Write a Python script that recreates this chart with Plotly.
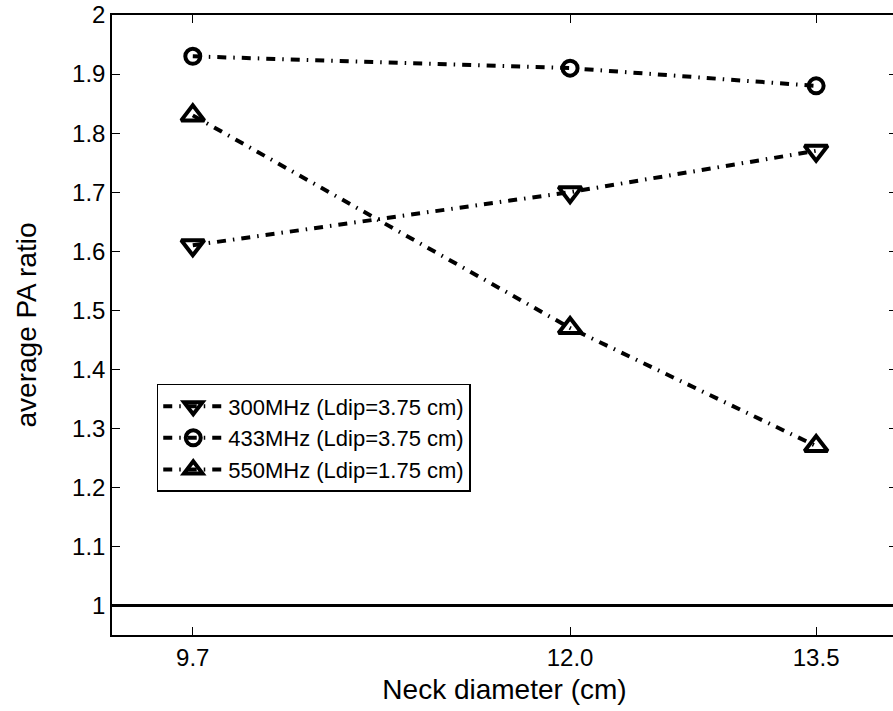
import plotly.graph_objects as go

# ---- data ----
neck_diameter = [9.7, 12.0, 13.5]
x_tick_labels = ["9.7", "12.0", "13.5"]
pa_300 = [1.61, 1.70, 1.77]
pa_433 = [1.93, 1.91, 1.88]
pa_550 = [1.83, 1.47, 1.27]
series_names = ["300MHz (Ldip=3.75 cm)", "433MHz (Ldip=3.75 cm)", "550MHz (Ldip=1.75 cm)"]
y_ticks = [1, 1.1, 1.2, 1.3, 1.4, 1.5, 1.6, 1.7, 1.8, 1.9, 2]
y_tick_labels = ["1", "1.1", "1.2", "1.3", "1.4", "1.5", "1.6", "1.7", "1.8", "1.9", "2"]
reference_level = 1.0

FONT = "Liberation Sans, Arial, Helvetica, sans-serif"
DASH = "9px,7px,1.5px,7px"

fig = go.Figure()
symbols = ["triangle-down-open", "circle-open", "triangle-up-open"]
sizes = [20, 15, 20]
for ys, name, sym, sz in zip([pa_300, pa_433, pa_550], series_names, symbols, sizes):
    fig.add_trace(go.Scatter(
        x=neck_diameter, y=ys, name=name, mode="lines+markers",
        line=dict(color="black", width=4, dash=DASH),
        marker=dict(symbol=sym, size=sz, color="black",
                    line=dict(color="black", width=4)),
    ))

fig.add_hline(y=reference_level, line=dict(color="black", width=3))

fig.update_layout(
    width=900, height=711,
    margin=dict(l=112, r=1, t=12, b=76),
    paper_bgcolor="white", plot_bgcolor="white",
    font=dict(family=FONT, size=24, color="black"),
    showlegend=True,
    legend=dict(
        x=0.057, y=0.405, xanchor="left", yanchor="top",
        bgcolor="white", bordercolor="black", borderwidth=1.5,
        font=dict(family=FONT, size=22, color="black"),
        itemwidth=60, tracegroupgap=0,
    ),
    xaxis=dict(
        range=[9.2075, 13.993], tickmode="array",
        tickvals=neck_diameter, ticktext=x_tick_labels,
        ticks="inside", ticklen=8, tickwidth=1, tickcolor="black",
        showline=True, linecolor="black", linewidth=1.5, mirror="ticks",
        showgrid=False, zeroline=False, ticklabeloverflow="allow",
        title=dict(text="Neck diameter (cm)", font=dict(size=28), standoff=10),
        tickfont=dict(size=24),
    ),
    yaxis=dict(
        range=[0.95, 2.0], tickmode="array",
        tickvals=y_ticks, ticktext=y_tick_labels,
        ticks="inside", ticklen=8, tickwidth=1, tickcolor="black",
        showline=True, linecolor="black", linewidth=1.5, mirror="ticks",
        showgrid=False, zeroline=False, ticklabeloverflow="allow",
        title=dict(text="average PA ratio", font=dict(size=28), standoff=27),
        tickfont=dict(size=24),
    ),
)

fig.write_html(
    "out.html",
    config={"displayModeBar": False},
    post_script="document.body.style.margin='0';document.body.style.overflow='hidden';",
)
